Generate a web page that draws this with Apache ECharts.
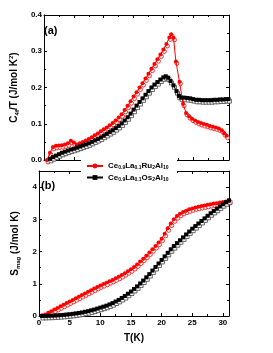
<!DOCTYPE html>
<html><head><meta charset="utf-8">
<script src="https://cdn.jsdelivr.net/npm/echarts@6/dist/echarts.min.js"></script>
<style>html,body{margin:0;padding:0;background:#fff}#c{width:273px;height:353px}</style>
</head><body><div id="c"></div>
<script>
// Panel (a): C4f/T vs T
const tRuC = [0.5,1,1.5,2,2.5,3,3.5,4,4.5,5,5.5,6,6.5,7,7.5,8,8.5,9,9.5,10,10.5,11,11.5,12,12.5,13,13.5,14,14.5,15,15.5,16,16.5,17,17.5,18,18.5,19,19.5,20,20.5,21,
  21.3,21.7,22.1,22.7,23.3,23.8,24.3,24.8,25.3,25.8,26.3,26.8,27.3,27.8,28.3,28.8,29.3,29.8,30.2,30.6];
const cRu = [0.0,0.02,0.036,0.039,0.04,0.041,0.043,0.046,0.053,0.048,0.043,0.046,0.05,0.054,0.058,0.063,0.068,0.073,0.079,0.085,0.09,0.096,0.102,0.109,0.117,0.126,0.138,0.15,0.162,0.175,0.187,0.2,0.212,0.225,0.238,0.252,0.265,0.278,0.291,0.305,0.32,0.338,
  0.347,0.337,0.272,0.216,0.155,0.13,0.121,0.114,0.109,0.105,0.102,0.099,0.097,0.094,0.092,0.09,0.087,0.082,0.074,0.067];
const tOsC = [1,1.5,2,2.5,3,3.5,4,4.5,5,5.5,6,6.5,7,7.5,8,8.5,9,9.5,10,10.5,11,11.5,12,12.5,13,13.5,14,14.5,15,15.5,16,16.5,17,17.5,18,18.5,19,19.5,20,
  20.4,20.8,21.2,21.7,22.2,22.6,23,23.5,24,24.5,25,25.5,26,26.5,27,27.5,28,28.5,29,29.5,30,30.5,30.9];
const cOs = [0.003,0.008,0.012,0.016,0.02,0.023,0.026,0.029,0.031,0.034,0.037,0.04,0.043,0.046,0.05,0.054,0.058,0.062,0.067,0.072,0.077,0.082,0.088,0.094,0.101,0.109,0.118,0.128,0.139,0.15,0.16,0.17,0.18,0.19,0.2,0.208,0.215,0.222,0.228,
  0.231,0.227,0.218,0.206,0.19,0.177,0.172,0.172,0.171,0.17,0.168,0.166,0.166,0.165,0.165,0.165,0.165,0.166,0.166,0.167,0.167,0.168,0.168];
// Panel (b): S_mag vs T
const tS = [0.5,1,1.5,2,2.5,3,3.5,4,4.5,5,5.5,6,6.5,7,7.5,8,8.5,9,9.5,10,10.5,11,11.5,12,12.5,13,13.5,14,14.5,15,15.5,16,16.5,17,17.5,18,18.5,19,19.5,20,20.5,21,21.5,22,22.5,23,23.5,24,24.5,25,25.5,26,26.5,27,27.5,28,28.5,29,29.5,30,30.5,31];
const sRu = [0.02,0.05,0.1,0.15,0.2,0.25,0.3,0.35,0.4,0.45,0.5,0.55,0.6,0.65,0.7,0.75,0.8,0.85,0.9,0.95,0.99,1.03,1.08,1.12,1.17,1.22,1.27,1.33,1.39,1.45,1.52,1.6,1.69,1.78,1.87,1.97,2.07,2.17,2.28,2.4,2.55,2.72,2.87,3.0,3.1,3.17,3.23,3.27,3.31,3.34,3.37,3.39,3.41,3.43,3.45,3.47,3.49,3.5,3.52,3.54,3.55,3.57];
const sOs = [0.0,0.003,0.006,0.01,0.015,0.02,0.027,0.035,0.045,0.055,0.067,0.08,0.095,0.11,0.13,0.15,0.175,0.2,0.23,0.26,0.29,0.32,0.36,0.4,0.45,0.5,0.56,0.62,0.69,0.76,0.84,0.92,1.01,1.1,1.2,1.3,1.41,1.52,1.63,1.74,1.85,1.96,2.07,2.17,2.26,2.35,2.44,2.53,2.62,2.71,2.79,2.87,2.95,3.03,3.11,3.19,3.26,3.33,3.4,3.47,3.53,3.59];
const nameRu = 'Ce0.9La0.1Ru2Al10';
const nameOs = 'Ce0.9La0.1Os2Al10';

const zip = (a, b) => a.map((v, i) => [v, b[i]]);
const FF = 'Liberation Sans, Arial, sans-serif';
const RED = '#ff0000', BLK = '#000000';

function xAx(gi, pos, labels) {
  return {
    type: 'value', gridIndex: gi, position: pos, min: 0, max: 31, interval: 5,
    axisLine: {show: true, onZero: false, lineStyle: {color: '#000', width: 1}},
    axisTick: {show: true, inside: true, length: 3, lineStyle: {color: '#000'}},
    minorTick: {show: true, splitNumber: 2, length: 2, lineStyle: {color: '#000'}},
    splitLine: {show: false}, minorSplitLine: {show: false},
    axisLabel: {show: labels, color: '#000', fontFamily: FF, fontWeight: 'bold', fontSize: 8, margin: 3}
  };
}
function yAx(gi, pos, min, max, interval, labels, fmt, name) {
  return {
    type: 'value', gridIndex: gi, position: pos, min: min, max: max, interval: interval,
    axisLine: {show: true, onZero: false, lineStyle: {color: '#000', width: 1}},
    axisTick: {show: true, inside: true, length: 3, lineStyle: {color: '#000'}},
    minorTick: {show: true, splitNumber: 2, length: 2, lineStyle: {color: '#000'}},
    splitLine: {show: false}, minorSplitLine: {show: false},
    axisLabel: {show: labels, color: '#000', fontFamily: FF, fontWeight: 'bold', fontSize: 8, margin: 2, formatter: fmt,
      showMaxLabel: labels ? (max === 0.4) : false},
    name: name || '', nameLocation: 'middle', nameGap: 20, nameRotate: 90,
    nameTextStyle: {color: '#000', fontFamily: FF, fontWeight: 'bold', fontSize: 10,
      rich: {
        b: {fontFamily: FF, fontWeight: 'bold', fontSize: 10, color: '#000'},
        sub: {fontFamily: FF, fontWeight: 'bold', fontSize: 6, color: '#000', verticalAlign: 'bottom', padding: [6, 0, 0, 0]},
        sup: {fontFamily: FF, fontWeight: 'bold', fontSize: 6, color: '#000', verticalAlign: 'top', padding: [0, 0, 5, 0]}
      }}
  };
}

const legRich = {
  b: {fontFamily: FF, fontWeight: 'bold', fontSize: 8, color: '#000'},
  s: {fontFamily: FF, fontWeight: 'bold', fontSize: 5, color: '#000', verticalAlign: 'bottom', padding: [4, 0, 0, 0]}
};
function legFmt(n) {
  const m = n.match(/^Ce([\d.]+)La([\d.]+)(Ru|Os)(\d+)Al(\d+)$/);
  return '{b|Ce}{s|' + m[1] + '}{b|La}{s|' + m[2] + '}{b|' + m[3] + '}{s|' + m[4] + '}{b|Al}{s|' + m[5] + '}';
}

function filled(name, color, sym, xi, yi, data) {
  return {name: name, type: 'line', xAxisIndex: xi, yAxisIndex: yi, data: data,
    symbol: sym, symbolSize: 4, showSymbol: true, lineStyle: {color: color, width: 1},
    itemStyle: {color: color, borderWidth: 0}, z: 5, animation: false};
}
function open(color, sym, xi, yi, data) {
  return {name: '', type: 'line', xAxisIndex: xi, yAxisIndex: yi, data: data,
    symbol: sym, symbolSize: 4, symbolOffset: [1, 2], showSymbol: true, lineStyle: {width: 0, opacity: 0},
    itemStyle: {color: '#fff', borderColor: color, borderWidth: 0.8}, z: 4, animation: false};
}

const chart = echarts.init(document.getElementById('c'), null, {renderer: 'canvas'});
chart.setOption({
  animation: false,
  backgroundColor: '#fff',
  grid: [
    {left: 39, right: 44, top: 15, height: 145},
    {left: 39, right: 44, top: 171, height: 145}
  ],
  xAxis: [
    xAx(0, 'bottom', false), xAx(0, 'top', false),
    Object.assign(xAx(1, 'bottom', true), {name: 'T(K)', nameLocation: 'middle', nameGap: 17,
      nameTextStyle: {color: '#000', fontFamily: FF, fontWeight: 'bold', fontSize: 10}}),
    xAx(1, 'top', false)
  ],
  yAxis: [
    yAx(0, 'left', 0, 0.4, 0.1, true, v => v.toFixed(1), '{b|C}{sub|4f}{b|/T (J/mol K}{sup|2}{b|)}'),
    yAx(0, 'right', 0, 0.4, 0.1, false),
    Object.assign(yAx(1, 'left', 0, 4.5, 1, true, v => String(v), '{b|S}{sub|mag}{b| (J/mol K)}'), {nameGap: 16}),
    yAx(1, 'right', 0, 4.5, 1, false)
  ],
  legend: {
    data: [nameRu, nameOs], orient: 'vertical', left: 82, top: 159, zlevel: 2, z: 10,
    padding: [3, 8, 3, 4], itemGap: 3, itemWidth: 16, itemHeight: 6,
    formatter: legFmt, textStyle: {rich: legRich, fontSize: 8, fontFamily: FF, fontWeight: 'bold'},
    selectedMode: false
  },
  graphic: {
    elements: [
      {type: 'rect', zlevel: 1, z: 100, shape: {x: 81, y: 157, width: 96, height: 31}, style: {fill: '#fff'}},
      {type: 'text', left: 44, top: 25, z: 30, style: {text: '(a)', font: 'bold 11px Liberation Sans, Arial, sans-serif', fill: '#000'}},
      {type: 'text', left: 41, top: 180, z: 30, style: {text: '(b)', font: 'bold 11px Liberation Sans, Arial, sans-serif', fill: '#000'}}
    ]
  },
  series: [
    open(RED, 'circle', 0, 0, zip(tRuC, cRu)),
    filled(nameRu, RED, 'circle', 0, 0, zip(tRuC, cRu)),
    open('#444', 'rect', 0, 0, zip(tOsC, cOs)),
    filled(nameOs, BLK, 'rect', 0, 0, zip(tOsC, cOs)),
    open(RED, 'circle', 2, 2, zip(tS, sRu)),
    filled(nameRu, RED, 'circle', 2, 2, zip(tS, sRu)),
    open('#444', 'rect', 2, 2, zip(tS, sOs)),
    filled(nameOs, BLK, 'rect', 2, 2, zip(tS, sOs))
  ]
});
</script></body></html>
